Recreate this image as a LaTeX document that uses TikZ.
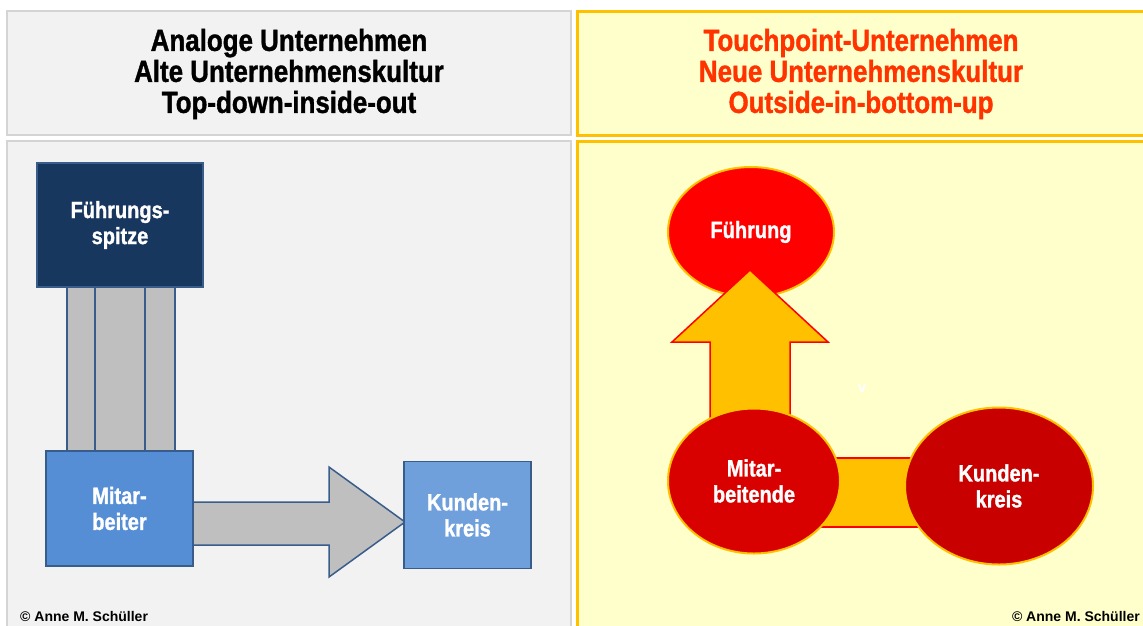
\documentclass[tikz,border=0pt]{standalone}
\usepackage{fontspec}
\usetikzlibrary{shapes.geometric}
\setmainfont{Liberation Sans}
\newfontfamily\heavy[FakeStretch=0.85,FakeBold=1.2]{Liberation Sans}
\newfontfamily\copyf{Liberation Sans}
\definecolor{hdrgray}{HTML}{F2F2F2}
\definecolor{hdrline}{HTML}{D4D4D4}
\definecolor{paleyellow}{HTML}{FFFFCC}
\definecolor{gold}{HTML}{FFC000}
\definecolor{titlered}{HTML}{FF3300}
\definecolor{navy}{HTML}{17375E}
\definecolor{blueline}{HTML}{385D8A}
\definecolor{midblue}{HTML}{558ED5}
\definecolor{lightblue}{HTML}{6FA0DC}
\definecolor{bargray}{HTML}{BFBFBF}
\definecolor{redA}{HTML}{FF0000}
\definecolor{redB}{HTML}{D90000}
\definecolor{redC}{HTML}{C80000}
\begin{document}
\begin{tikzpicture}[x=1pt,y=-1pt,
  panelL/.style={fill=hdrgray,draw=hdrline,line width=2pt},
  panelR/.style={fill=paleyellow,draw=gold,line width=3pt},
  title/.style={font=\heavy\bfseries\fontsize{30.5}{31}\selectfont,align=center},
  boxtext/.style={font=\heavy\bfseries\fontsize{23.5}{26}\selectfont,align=center,text=white},
  bluebox/.style={rectangle,draw=blueline,line width=1.5pt,inner sep=0pt,boxtext},
  redoval/.style={ellipse,draw=gold,line width=2pt,inner sep=0pt,boxtext},
  blockL/.style={fill=bargray,draw=blueline,line width=1.5pt,line join=miter},
  blockR/.style={fill=gold,draw=redA,line width=1.5pt,line join=miter},
  copy/.style={font=\copyf\bfseries\fontsize{14}{15}\selectfont,inner sep=1pt}
]
\clip (0,0) rectangle (1143,625);
\fill[white] (0,0) rectangle (1143,625);
% panels
\draw[panelL] (7,11) rectangle (571,135);
\draw[panelL] (7,141) rectangle (571,640);
\draw[panelR] (577,11) rectangle (1160,135);
\draw[panelR] (577,141) rectangle (1160,640);
% titles
\node[title] (tl) at (289,74) {Analoge Unternehmen\\Alte Unternehmenskultur\\Top-down-inside-out};
\node[title,text=titlered] (tr) at (861,74) {Touchpoint-Unternehmen\\Neue Unternehmenskultur\\Outside-in-bottom-up};
% left diagram
\draw[blockL] (67,287) rectangle (95,452);
\draw[blockL] (95,287) rectangle (145,452);
\draw[blockL] (145,287) rectangle (175,452);
\draw[blockL] (185,502) -- (329,502) -- (329,467) -- (405,522) -- (329,577) -- (329,545) -- (185,545) -- cycle;
\node[bluebox,fill=navy,minimum width=166pt,minimum height=124pt] (fs) at (120,225) {Führungs-\\spitze};
\node[bluebox,fill=midblue,minimum width=147pt,minimum height=115pt] (mit) at (119.5,508.5) {Mitar-\\beiter};
\node[bluebox,fill=lightblue,minimum width=127pt,minimum height=107pt] (kun) at (467.5,515) {Kunden-\\kreis};
\node[copy,anchor=west] (cl) at (19,616) {© Anne M. Schüller};
% right diagram
\draw[blockR] (800,458) rectangle (930,527);
\node[redoval,fill=redA,minimum width=166pt,minimum height=130pt] (fu) at (751,232) {Führung};
\draw[blockR] (710,430) -- (710,342) -- (672,342) -- (750,270) -- (828,342) -- (790,342) -- (790,430) -- cycle;
\node[redoval,fill=redB,minimum width=172pt,minimum height=145pt] (ma) at (754,481) {Mitar-\\beitende};
\node[redoval,fill=redC,minimum width=188pt,minimum height=157pt] (kk) at (999,486) {Kunden-\\kreis};
\node[text=white,font=\copyf\bfseries\fontsize{15}{16}\selectfont] (v) at (862,389) {v};
\node[copy,anchor=east] (cr) at (1141,616) {© Anne M. Schüller};
\end{tikzpicture}
\end{document}
